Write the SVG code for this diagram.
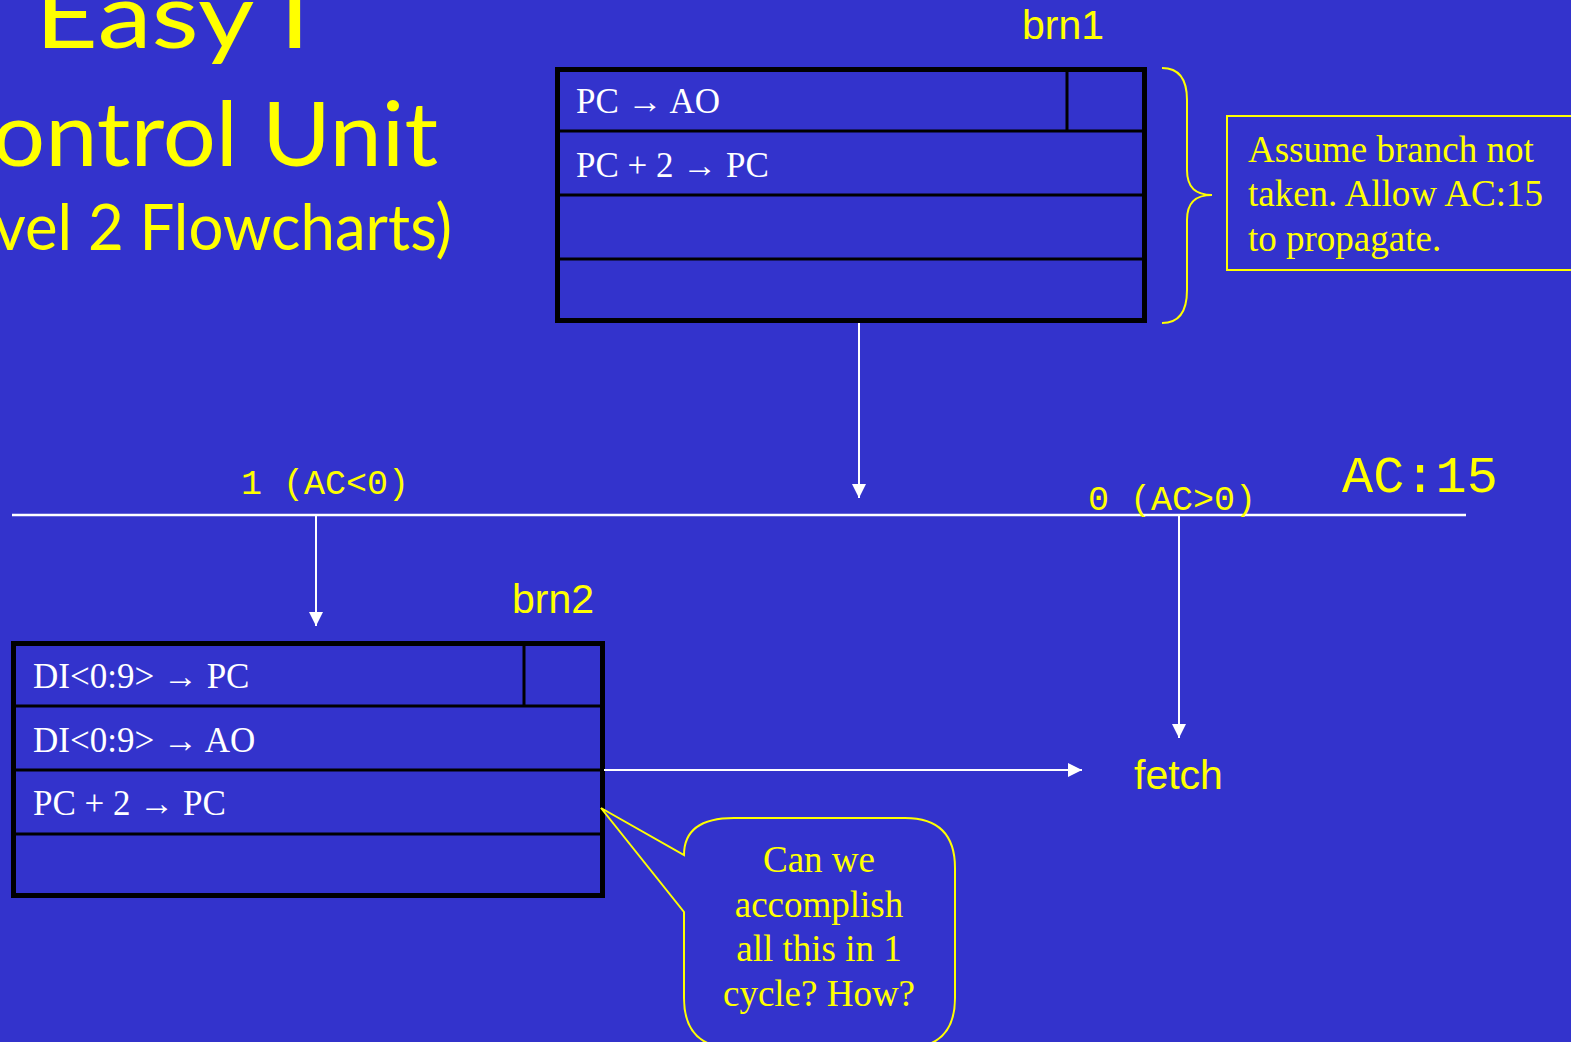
<svg xmlns="http://www.w3.org/2000/svg" width="1571" height="1042" viewBox="0 0 1571 1042">
<defs>
<style>
.title{font-family:Lato,"Open Sans",sans-serif;fill:#FFFF00;}
.lbl{font-family:"Liberation Sans",Arial,sans-serif;fill:#FFFF00;font-size:41px;}
.cell{font-family:"Liberation Serif","Times New Roman",serif;fill:#FFFFFF;font-size:35px;}
.note{font-family:"Liberation Serif","Times New Roman",serif;fill:#FFFF00;font-size:37px;}
.mono{font-family:"Liberation Mono","Courier New",monospace;fill:#FFFF00;font-weight:normal;}
.box{fill:none;stroke:#000;stroke-width:5;}
.div{stroke:#000;stroke-width:3;fill:none;}
.conn{stroke:#FFFFFF;stroke-width:2;fill:none;}
.yl{stroke:#FFFF00;stroke-width:2;fill:none;}
</style>
<marker id="ah" viewBox="0 0 10 10" refX="10" refY="5" markerWidth="14" markerHeight="14" markerUnits="userSpaceOnUse" orient="auto">
<path d="M0,0 L10,5 L0,10 z" fill="#FFFFFF"/>
</marker>
</defs>
<rect x="0" y="0" width="1571" height="1042" fill="#3333CC"/>

<g id="title">
<text class="title" x="35" y="48" font-size="92" textLength="275" lengthAdjust="spacingAndGlyphs">Easy I</text>
<text class="title" x="-8" y="166" font-size="90" textLength="446" lengthAdjust="spacingAndGlyphs">ontrol Unit</text>
<text class="title" x="-6" y="250" font-size="64" textLength="458" lengthAdjust="spacingAndGlyphs">vel 2 Flowcharts)</text>
</g>

<g id="brn1">
<text class="lbl" x="1022" y="39">brn1</text>
<rect class="box" x="557.5" y="69.5" width="587" height="251"/>
<path class="div" d="M557,131 H1145 M557,195 H1145 M557,259 H1145 M1067,69 V131"/>
<text class="cell" x="576" y="113">PC → AO</text>
<text class="cell" x="576" y="177">PC + 2 → PC</text>
</g>

<g id="brace">
<path class="yl" d="M1162,68 C1180,68 1187,80 1187,100 V170 C1187,188 1196,195 1212,195 C1196,195 1187,202 1187,220 V290 C1187,310 1180,323 1162,323"/>
</g>

<g id="note">
<rect x="1227" y="116" width="345" height="154" fill="none" stroke="#FFFF00" stroke-width="2"/>
<text class="note" x="1248" y="162">Assume branch not</text>
<text class="note" x="1248" y="206">taken. Allow AC:15</text>
<text class="note" x="1248" y="251">to propagate.</text>
</g>

<g id="decision">
<line x1="12" y1="515" x2="1466" y2="515" stroke="#FFFFFF" stroke-width="2.5"/>
<text class="mono" x="241" y="494" font-size="35">1 (AC&lt;0)</text>
<text class="mono" x="1088" y="510" font-size="35">0 (AC&gt;0)</text>
<text class="mono" x="1342" y="492" font-size="52">AC:15</text>
</g>

<g id="brn2">
<text class="lbl" x="512" y="613">brn2</text>
<rect class="box" x="13.5" y="643.5" width="589" height="252"/>
<path class="div" d="M13,706 H602 M13,770 H602 M13,834 H602 M524,643 V706"/>
<text class="cell" x="33" y="688">DI&lt;0:9&gt; → PC</text>
<text class="cell" x="33" y="752">DI&lt;0:9&gt; → AO</text>
<text class="cell" x="33" y="815">PC + 2 → PC</text>
</g>

<g id="fetch">
<text class="lbl" x="1134" y="789">fetch</text>
</g>

<g id="callout">
<path d="M734,818 H905 Q955,818 955,868 V998 Q955,1048 905,1048 H734 Q684,1048 684,998 V912 L601,808 L684,855 Q684,818 734,818 Z" fill="#3333CC" stroke="#FFFF00" stroke-width="2"/>
<text class="note" x="819" y="872" text-anchor="middle">Can we</text>
<text class="note" x="819" y="917" text-anchor="middle">accomplish</text>
<text class="note" x="819" y="961" text-anchor="middle">all this in 1</text>
<text class="note" x="819" y="1006" text-anchor="middle">cycle? How?</text>
</g>

<g id="connectors">
<path class="conn" d="M859,323 V498" marker-end="url(#ah)"/>
<path class="conn" d="M316,515 V626" marker-end="url(#ah)"/>
<path class="conn" d="M1179,515 V738" marker-end="url(#ah)"/>
<path class="conn" d="M604,770 H1082" marker-end="url(#ah)"/>
</g>
</svg>
